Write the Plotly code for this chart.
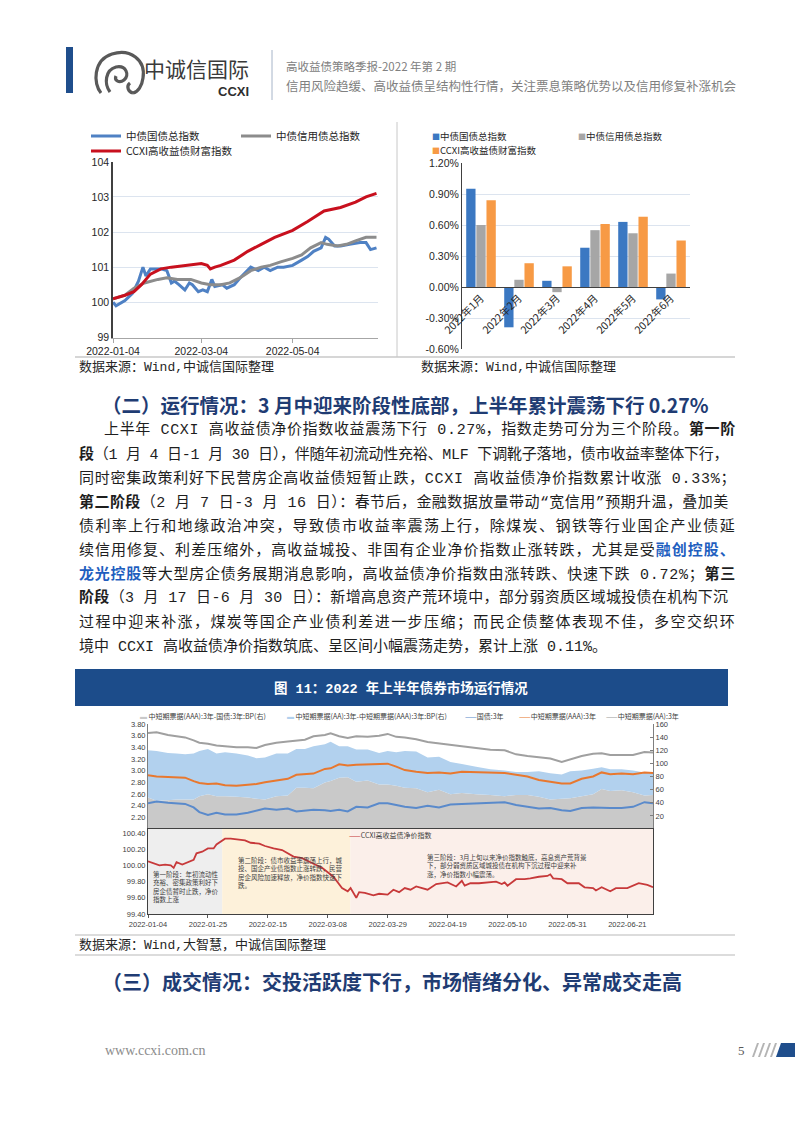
import re
import plotly.graph_objects as go

W, H = 802, 1133
CJK = "Noto Sans CJK SC, sans-serif"
BODY = "Liberation Mono, Noto Sans CJK SC, monospace"
SANS = "Liberation Sans, Arial, sans-serif"
SERIF = "Liberation Serif, serif"

# ---------------- Chart 1: index levels ----------------
gz_dates = ['2022-01-04','2022-01-06','2022-01-12','2022-01-17','2022-01-21','2022-01-24','2022-01-26','2022-01-29',
            '2022-02-05','2022-02-09','2022-02-12','2022-02-14','2022-02-17','2022-02-21','2022-02-24','2022-02-26',
            '2022-03-02','2022-03-05','2022-03-08','2022-03-11','2022-03-13','2022-03-18','2022-03-21','2022-03-26',
            '2022-03-30','2022-04-06','2022-04-11','2022-04-15','2022-04-19','2022-04-24','2022-04-28','2022-05-04',
            '2022-05-10','2022-05-14','2022-05-18','2022-05-23','2022-05-26','2022-05-28','2022-06-01','2022-06-05',
            '2022-06-11','2022-06-18','2022-06-22','2022-06-25','2022-06-29']
gz_vals = [100.0, 99.9, 100.05, 100.25, 100.6, 101.0, 100.75, 100.95,
           100.95, 100.9, 100.55, 100.6, 100.5, 100.35, 100.55, 100.5,
           100.3, 100.35, 100.3, 100.65, 100.45, 100.5, 100.4, 100.5,
           100.7, 101.0, 100.9, 101.0, 100.9, 101.0, 101.0, 101.05,
           101.2, 101.3, 101.45, 101.55, 101.85, 101.8, 101.6, 101.6,
           101.65, 101.7, 101.7, 101.5, 101.55]
xy_dates = ['2022-01-04','2022-01-12','2022-01-18','2022-01-25','2022-02-03','2022-02-09','2022-02-16','2022-02-25',
            '2022-03-04','2022-03-10','2022-03-17','2022-03-23','2022-03-30','2022-04-06','2022-04-13','2022-04-19',
            '2022-04-26','2022-05-04','2022-05-10','2022-05-16','2022-05-23','2022-05-27','2022-06-03','2022-06-09',
            '2022-06-15','2022-06-22','2022-06-29']
xy_vals = [100.1, 100.2, 100.4, 100.55, 100.65, 100.7, 100.65, 100.65,
           100.55, 100.5, 100.5, 100.55, 100.7, 100.9, 101.0, 101.05,
           101.15, 101.25, 101.35, 101.55, 101.7, 101.65, 101.6, 101.65,
           101.75, 101.85, 101.85]
hy_dates = ['2022-01-04','2022-01-12','2022-01-18','2022-01-23','2022-01-29','2022-02-05','2022-02-12','2022-02-21',
            '2022-03-04','2022-03-08','2022-03-10','2022-03-13','2022-03-17','2022-03-26','2022-04-04','2022-04-13',
            '2022-04-22','2022-05-04','2022-05-14','2022-05-25','2022-06-05','2022-06-15','2022-06-22','2022-06-29']
hy_vals = [100.1, 100.2, 100.3, 100.5, 100.8, 100.95, 101.0, 101.05,
           101.1, 101.05, 100.95, 101.0, 101.05, 101.2, 101.45, 101.65,
           101.85, 102.05, 102.3, 102.6, 102.7, 102.85, 103.0, 103.1]
c1_ticks = ['2022-01-04', '2022-03-04', '2022-05-04']
c1_yticks = [99, 100, 101, 102, 103, 104]

# ---------------- Chart 2: monthly returns (%) ----------------
months = ['2022年1月', '2022年2月', '2022年3月', '2022年4月', '2022年5月', '2022年6月']
gz_month = [0.95, -0.39, 0.06, 0.38, 0.63, -0.12]
xy_month = [0.60, 0.07, -0.05, 0.55, 0.52, 0.13]
hy_month = [0.84, 0.23, 0.20, 0.61, 0.68, 0.45]
c2_yticks = [-0.6, -0.3, 0.0, 0.3, 0.6, 0.9, 1.2]

# ---------------- Figure 11 top: yields & spreads ----------------
f11_dates = ['2022-01-04','2022-01-07','2022-01-11','2022-01-14','2022-01-17','2022-01-20','2022-01-22','2022-01-25',
             '2022-01-28','2022-01-31','2022-02-04','2022-02-08','2022-02-11','2022-02-14','2022-02-18','2022-02-22',
             '2022-02-25','2022-02-28','2022-03-03','2022-03-07','2022-03-09','2022-03-12','2022-03-15','2022-03-18',
             '2022-03-22','2022-03-26','2022-03-29','2022-04-01','2022-04-04','2022-04-08','2022-04-12','2022-04-16',
             '2022-04-20','2022-04-24','2022-04-29','2022-05-04','2022-05-09','2022-05-13','2022-05-17','2022-05-21',
             '2022-05-25','2022-05-29','2022-06-01','2022-06-05','2022-06-09','2022-06-12','2022-06-15','2022-06-19',
             '2022-06-23','2022-06-27','2022-06-30']
spread_aaa_gz = [48, 43, 44, 45, 45, 45, 50, 53, 50, 50, 49, 48, 46, 45, 50, 51, 63, 63, 62, 71,
                 73, 78, 79, 72, 74, 68, 68, 66, 63, 62, 56, 60, 53, 55, 53, 52, 50, 52, 52, 49,
                 45, 46, 47, 50, 53, 61, 58, 59, 56, 51, 52]
spread_aa_aaa = [72, 76, 72, 70, 69, 70, 69, 69, 65, 67, 66, 64, 62, 64, 65, 64, 59, 59, 64, 58,
                 60, 48, 47, 49, 47, 48, 51, 51, 56, 56, 53, 50, 49, 44, 42, 39, 39, 35, 35, 39,
                 40, 37, 41, 39, 39, 33, 33, 32, 33, 35, 35]
gz3y = [2.44, 2.47, 2.45, 2.44, 2.43, 2.37, 2.29, 2.24, 2.28, 2.25, 2.25, 2.28, 2.31, 2.35, 2.33, 2.35, 2.30,
        2.31, 2.33, 2.32, 2.31, 2.33, 2.30, 2.38, 2.37, 2.44, 2.44, 2.41, 2.38, 2.36, 2.40, 2.37, 2.42, 2.43,
        2.44, 2.45, 2.46, 2.41, 2.38, 2.35, 2.36, 2.32, 2.31, 2.36, 2.37, 2.36, 2.36, 2.36, 2.38, 2.46, 2.44]
aaa3y = [2.92, 2.90, 2.89, 2.89, 2.88, 2.82, 2.79, 2.77, 2.78, 2.75, 2.74, 2.76, 2.77, 2.80, 2.83, 2.86, 2.93,
         2.94, 2.95, 3.03, 3.04, 3.11, 3.09, 3.10, 3.11, 3.12, 3.12, 3.07, 3.01, 2.98, 2.96, 2.97, 2.95, 2.98,
         2.97, 2.97, 2.96, 2.93, 2.90, 2.84, 2.81, 2.78, 2.78, 2.86, 2.90, 2.97, 2.94, 2.95, 2.94, 2.97, 2.96]
aa3y = [3.645, 3.66, 3.61, 3.59, 3.57, 3.52, 3.48, 3.46, 3.43, 3.42, 3.40, 3.40, 3.39, 3.44, 3.48, 3.50, 3.52,
        3.53, 3.59, 3.61, 3.64, 3.59, 3.56, 3.59, 3.58, 3.60, 3.63, 3.58, 3.57, 3.54, 3.49, 3.47, 3.44, 3.42,
        3.39, 3.36, 3.35, 3.28, 3.25, 3.23, 3.21, 3.15, 3.19, 3.25, 3.29, 3.30, 3.27, 3.27, 3.27, 3.32, 3.31]

# ---------------- Figure 11 bottom: CCXI net price index ----------------
net_dates = ['2022-01-04','2022-01-06','2022-01-08','2022-01-10','2022-01-12','2022-01-13','2022-01-14','2022-01-16',
             '2022-01-18','2022-01-20','2022-01-21','2022-01-23','2022-01-25','2022-01-27','2022-01-28','2022-01-31',
             '2022-02-02','2022-02-07','2022-02-09','2022-02-12','2022-02-14','2022-02-17','2022-02-20','2022-02-22',
             '2022-02-24','2022-02-27','2022-03-01','2022-03-03','2022-03-06','2022-03-08','2022-03-10','2022-03-13',
             '2022-03-15','2022-03-16','2022-03-18','2022-03-19','2022-03-21','2022-03-24','2022-03-26','2022-03-29',
             '2022-03-31','2022-04-02','2022-04-04','2022-04-06','2022-04-08','2022-04-12','2022-04-15','2022-04-19',
             '2022-04-22','2022-04-24','2022-04-25','2022-04-27','2022-04-30','2022-05-06','2022-05-08','2022-05-09',
             '2022-05-10','2022-05-13','2022-05-16','2022-05-18','2022-05-21','2022-05-24','2022-05-25','2022-05-26',
             '2022-05-29','2022-05-31','2022-06-04','2022-06-06','2022-06-09','2022-06-10','2022-06-12','2022-06-15',
             '2022-06-17','2022-06-21','2022-06-23','2022-06-25','2022-06-28','2022-06-30']
net_vals = [100.05, 100.02, 100.00, 100.01, 100.00, 99.97, 100.04, 100.01,
            100.04, 100.07, 100.15, 100.17, 100.21, 100.21, 100.26, 100.33,
            100.33, 100.31, 100.28, 100.27, 100.24, 100.21, 100.19, 100.15,
            100.11, 100.09, 100.05, 100.02, 99.97, 99.91, 99.86, 99.72,
            99.68, 99.72, 99.60, 99.67, 99.66, 99.63, 99.65, 99.64,
            99.70, 99.67, 99.72, 99.70, 99.74, 99.70, 99.77, 99.79,
            99.74, 99.81, 99.75, 99.78, 99.78, 99.80, 99.77, 99.79,
            99.75, 99.83, 99.83, 99.84, 99.86, 99.87, 99.89, 99.84,
            99.83, 99.78, 99.78, 99.73, 99.72, 99.69, 99.73, 99.68,
            99.72, 99.72, 99.75, 99.78, 99.76, 99.73]
stage_bounds = ['2022-01-04', '2022-01-30', '2022-03-16', '2022-06-30']
stage_colors = ['#EEEEEE', '#FDF1DA', '#FBEFEA']
stage_notes = [
    "第一阶段：年初流动性<br>充裕、密集政策利好下<br>房企债暂时止跌，净价<br>指数上涨",
    "第二阶段：债市收益率震荡上行，城<br>投、国企产业债指数止涨转跌，民营<br>房企风险加速释放，净价指数快速下<br>跌。",
    "第三阶段：3月上旬以来净价指数触底，高息资产荒背景<br>下，部分弱资质区域城投债在机构下沉过程中迎来补<br>涨，净价指数小幅震荡。",
]
stage_note_pos = [('2022-01-05', 99.985), ('2022-02-04', 100.15), ('2022-04-11', 100.19)]


def px(x):
    return x / W


def py(y):
    return 1 - y / H


fig = go.Figure()

# ---------- chart 1 ----------
fig.add_trace(go.Scatter(x=gz_dates, y=gz_vals, mode='lines', name='中债国债总指数',
                         line=dict(color='#4F81C4', width=3), xaxis='x', yaxis='y', legend='legend'))
fig.add_trace(go.Scatter(x=xy_dates, y=xy_vals, mode='lines', name='中债信用债总指数',
                         line=dict(color='#8C8C8C', width=3), xaxis='x', yaxis='y', legend='legend2'))
fig.add_trace(go.Scatter(x=hy_dates, y=hy_vals, mode='lines', name='CCXI高收益债财富指数',
                         line=dict(color='#C8101E', width=3), xaxis='x', yaxis='y', legend='legend3'))

# ---------- chart 2 ----------
BAR_C = ['#3B78C2', '#A6A6A6', '#F79A45']
BAR_N = ['中债国债总指数', '中债信用债总指数', 'CCXI高收益债财富指数']
for vals, col, nm in zip([gz_month, xy_month, hy_month], BAR_C, BAR_N):
    fig.add_trace(go.Bar(x=months, y=vals, name=nm, marker=dict(color=col, line=dict(width=0)),
                         xaxis='x2', yaxis='y2', showlegend=False))

# ---------- figure 11 top ----------
fig.add_trace(go.Scatter(x=f11_dates, y=spread_aaa_gz, name='中短期票据(AAA):3年-国债:3年:BP(右)',
                         stackgroup='sp', mode='none', fillcolor='#C9C9C9', xaxis='x3', yaxis='y3',
                         showlegend=False))
fig.add_trace(go.Scatter(x=f11_dates, y=spread_aa_aaa, name='中短期票据(AA):3年-中短期票据(AAA):3年:BP(右)',
                         stackgroup='sp', mode='none', fillcolor='#B2D1EE', xaxis='x3', yaxis='y3',
                         showlegend=False))
fig.add_trace(go.Scatter(x=f11_dates, y=gz3y, name='国债:3年', mode='lines',
                         line=dict(color='#5A8ACB', width=2), xaxis='x3', yaxis='y4', showlegend=False))
fig.add_trace(go.Scatter(x=f11_dates, y=aaa3y, name='中短期票据(AAA):3年', mode='lines',
                         line=dict(color='#E8782F', width=2), xaxis='x3', yaxis='y4', showlegend=False))
fig.add_trace(go.Scatter(x=f11_dates, y=aa3y, name='中短期票据(AA):3年', mode='lines',
                         line=dict(color='#A0A0A0', width=2), xaxis='x3', yaxis='y4', showlegend=False))

# ---------- figure 11 bottom ----------
fig.add_trace(go.Scatter(x=net_dates, y=net_vals, name='CCXI高收益债净价指数', mode='lines',
                         line=dict(color='#C7393A', width=1.8), xaxis='x4', yaxis='y5', showlegend=False))

shapes = []
annotations = []

for i in range(3):
    shapes.append(dict(type='rect', xref='x4', yref='y5 domain', x0=stage_bounds[i], x1=stage_bounds[i + 1],
                       y0=0, y1=1, fillcolor=stage_colors[i], line=dict(width=0), layer='below'))
for note, (nx, ny) in zip(stage_notes, stage_note_pos):
    annotations.append(dict(xref='x4', yref='y5', x=nx, y=ny, text=note, showarrow=False, xanchor='left',
                            yanchor='top', align='left', font=dict(family=CJK, size=6.5, color='#404040')))

# ---------- axes ----------
grid_c = '#DCE4EF'
TF = dict(family=SANS, size=10.5, color='#262626')
lay = dict(
    xaxis=dict(domain=[px(113), px(378)], anchor='y', type='date', range=['2022-01-04', '2022-06-30'],
               tickvals=c1_ticks, ticktext=c1_ticks, showline=True, linecolor='#A6A6A6', ticks='outside',
               ticklen=4, tickcolor='#A6A6A6', showgrid=False, tickfont=TF),
    yaxis=dict(domain=[py(337.5), py(161.5)], anchor='x', range=[98.995, 104.01], tickvals=c1_yticks,
               ticktext=[str(v) for v in c1_yticks], showline=True,
               linecolor='#404040', linewidth=1.5, gridcolor=grid_c, zeroline=False, tickfont=TF),
    xaxis2=dict(domain=[px(462), px(690)], anchor='free', position=py(349) + (py(163) - py(349)) * 0.6 / 1.8,
                type='category', showline=True, linecolor='#404040', linewidth=1, tickangle=-45, ticks='',
                showgrid=False, tickfont=dict(family=CJK, size=10.5, color='#262626')),
    yaxis2=dict(domain=[py(349), py(163)], anchor='x2', range=[-0.6, 1.2], tickvals=c2_yticks,
                ticktext=[f"{v:.2f}%" for v in c2_yticks], showline=True, linecolor='#404040',
                gridcolor=grid_c, zeroline=False, tickfont=TF),
    xaxis3=dict(domain=[px(148), px(653)], anchor='y3', type='date', range=['2022-01-04', '2022-06-30'],
                showticklabels=False, showgrid=False, showline=False, ticks=''),
    yaxis3=dict(domain=[py(829), py(724)], anchor='x3', side='right', range=[0, 160],
                tickvals=[20, 40, 60, 80, 100, 120, 140, 160], showgrid=False, zeroline=False, showline=True,
                linecolor='#7F7F7F', ticks='inside', ticklen=3, tickcolor='#7F7F7F',
                tickfont=dict(family=SANS, size=7.5, color='#404040')),
    yaxis4=dict(overlaying='y3', anchor='x3', side='left', range=[2.0, 3.8],
                tickvals=[2.2, 2.4, 2.6, 2.8, 3.0, 3.2, 3.4, 3.6, 3.8], tickformat='.2f',
                showgrid=False, zeroline=False, showline=True, linecolor='#7F7F7F', ticks='',
                tickfont=dict(family=SANS, size=7.5, color='#404040')),
    xaxis4=dict(domain=[px(148), px(653)], anchor='y5', type='date', range=['2022-01-04', '2022-06-30'],
                tick0='2022-01-04', dtick=21 * 86400000, tickformat='%Y-%m-%d', ticks='outside', ticklen=3,
                tickcolor='#595959', showgrid=False, showline=True, linecolor='#404040', mirror=True,
                tickfont=dict(family=SANS, size=7.5, color='#404040')),
    yaxis5=dict(domain=[py(914), py(829)], anchor='x4', range=[99.4, 100.45],
                tickvals=[99.4, 99.6, 99.8, 100.0, 100.2, 100.4], tickformat='.2f', showgrid=False,
                zeroline=False, showline=True, linecolor='#404040', mirror=True, ticks='',
                tickfont=dict(family=SANS, size=7.5, color='#404040')),
)


def legend_at(x, y, size=10.5):
    return dict(x=px(x), y=py(y), xanchor='left', yanchor='middle', orientation='h',
                bgcolor='rgba(0,0,0,0)', borderwidth=0, itemwidth=30,
                font=dict(family=CJK, size=size, color='#262626'))


lay['legend'] = legend_at(86, 136)
lay['legend2'] = legend_at(236, 136)
lay['legend3'] = legend_at(86, 151)

# ---------- chart 2 legend (small squares, as in the reference) ----------
for (lx, ly), col, nm in zip([(431, 136), (577, 136), (431, 150)], BAR_C, BAR_N):
    annotations.append(dict(xref='paper', yref='paper', x=px(lx), y=py(ly),
                            text=f"<span style='color:{col};font-size:8px'>■</span>{nm}", showarrow=False,
                            xanchor='left', yanchor='middle', borderpad=0,
                            font=dict(family=CJK, size=9.5, color='#262626')))

# ---------- figure 11 manual legend text ----------
f11_leg = [
    (138, "<span style='color:#C9C9C9'>▬</span> 中短期票据(AAA):3年-国债:3年:BP(右)"),
    (285, "<span style='color:#B2D1EE'>▬</span> 中短期票据(AA):3年-中短期票据(AAA):3年:BP(右)"),
    (463, "<span style='color:#5A8ACB'>——</span>国债:3年"),
    (517, "<span style='color:#E8782F'>——</span>中短期票据(AAA):3年"),
    (604, "<span style='color:#A0A0A0'>——</span>中短期票据(AA):3年"),
]
for lx, lt in f11_leg:
    annotations.append(dict(xref='paper', yref='paper', x=px(lx), y=py(716), text=lt, showarrow=False,
                            xanchor='left', yanchor='middle', font=dict(family=CJK, size=7, color='#404040')))
annotations.append(dict(xref='paper', yref='paper', x=px(347), y=py(835),
                        text="<span style='color:#C7393A'>——</span>CCXI高收益债净价指数", showarrow=False,
                        xanchor='left', yanchor='middle', font=dict(family=CJK, size=7, color='#404040')))

# ---------- page decoration: header ----------
shapes.append(dict(type='rect', xref='paper', yref='paper', x0=px(66), x1=px(73), y0=py(93), y1=py(47),
                   fillcolor='#1F4E8C', line=dict(width=0)))
shapes.append(dict(type='line', xref='paper', yref='paper', x0=px(272), x1=px(272), y0=py(100), y1=py(50),
                   line=dict(color='#A6B4C8', width=1)))


def path_px(cmds):
    out = []
    for c in cmds:
        if isinstance(c, str):
            out.append(c)
        else:
            out.append(f"{px(c[0]):.5f},{py(c[1]):.5f}")
    return ' '.join(out)


logo_paths = [
    ['M', (101, 93), 'C', (93, 84), (93, 60), (112, 54), 'C', (130, 48), (146, 60), (143, 78),
     'C', (142, 86), (138, 92), (133, 93)],
    ['M', (110, 92), 'C', (104, 84), (105, 70), (116, 67), 'C', (126, 65), (130, 75), (124, 80),
     'C', (119, 84), (114, 80), (116, 76)],
    ['M', (133, 93), 'C', (128, 92), (126, 86), (130, 83)],
]
for pth in logo_paths:
    shapes.append(dict(type='path', xref='paper', yref='paper', path=path_px(pth),
                       line=dict(color='#595959', width=3.2)))

annotations += [
    dict(xref='paper', yref='paper', x=px(142), y=py(68), text='中诚信国际', showarrow=False, xanchor='left',
         yanchor='middle', font=dict(family=CJK, size=21, color='#3A3A3A')),
    dict(xref='paper', yref='paper', x=px(251), y=py(91), text='<b>CCXI</b>', showarrow=False, xanchor='right',
         yanchor='middle', font=dict(family=SANS, size=13, color='#2E2E2E')),
    dict(xref='paper', yref='paper', x=px(284), y=py(66), text='高收益债策略季报-2022 年第 2 期', showarrow=False,
         xanchor='left', yanchor='middle', font=dict(family=CJK, size=11.5, color='#808080')),
    dict(xref='paper', yref='paper', x=px(284), y=py(85),
         text='信用风险趋缓、高收益债呈结构性行情，关注票息策略优势以及信用修复补涨机会', showarrow=False,
         xanchor='left', yanchor='middle', font=dict(family=CJK, size=12.5, color='#808080')),
]

# ---------- table lines around top charts ----------
shapes.append(dict(type='line', xref='paper', yref='paper', x0=px(397), x1=px(397), y0=py(357), y1=py(122),
                   line=dict(color='#C8C8C8', width=1)))
shapes.append(dict(type='line', xref='paper', yref='paper', x0=px(75), x1=px(735), y0=py(357), y1=py(357),
                   line=dict(color='#C8C8C8', width=1.5)))
annotations += [
    dict(xref='paper', yref='paper', x=px(77), y=py(367), text='数据来源：Wind,中诚信国际整理', showarrow=False,
         xanchor='left', yanchor='middle', font=dict(family=BODY, size=13, color='#262626')),
    dict(xref='paper', yref='paper', x=px(419), y=py(367), text='数据来源：Wind,中诚信国际整理', showarrow=False,
         xanchor='left', yanchor='middle', font=dict(family=BODY, size=13, color='#262626')),
]

# ---------- section 2 title and body ----------
annotations.append(dict(xref='paper', yref='paper', x=px(100), y=py(405),
                        text='<b>（二）运行情况：3 月中迎来阶段性底部，上半年累计震荡下行 0.27%</b>',
                        showarrow=False, xanchor='left', yanchor='middle',
                        font=dict(family=CJK, size=19.5, color='#1F3C73')))

BLUE_T = '#1F5FBF'
body_lines = [
    "上半年 CCXI 高收益债净价指数收益震荡下行 0.27%，指数走势可分为三个阶段。<b>第一阶</b>",
    "<b>段</b>（1 月 4 日-1 月 30 日），伴随年初流动性充裕、MLF 下调靴子落地，债市收益率整体下行，",
    "同时密集政策利好下民营房企高收益债短暂止跌，CCXI 高收益债净价指数累计收涨 0.33%；",
    "<b>第二阶段</b>（2 月 7 日-3 月 16 日）：春节后，金融数据放量带动“宽信用”预期升温，叠加美",
    "债利率上行和地缘政治冲突，导致债市收益率震荡上行，除煤炭、钢铁等行业国企产业债延",
    f"续信用修复、利差压缩外，高收益城投、非国有企业净价指数止涨转跌，尤其是受<span style='color:{BLUE_T}'><b>融创控股、</b></span>",
    f"<span style='color:{BLUE_T}'><b>龙光控股</b></span>等大型房企债务展期消息影响，高收益债净价指数由涨转跌、快速下跌 0.72%；<b>第三</b>",
    "<b>阶段</b>（3 月 17 日-6 月 30 日）：新增高息资产荒环境中，部分弱资质区域城投债在机构下沉",
    "过程中迎来补涨，煤炭等国企产业债利差进一步压缩；而民企债整体表现不佳，多空交织环",
    "境中 CCXI 高收益债净价指数筑底、呈区间小幅震荡走势，累计上涨 0.11%。",
]
BODY_SIZE = 15


def em_width(s):
    plain = re.sub(r'<[^>]+>', '', s)
    w = 0.0
    for ch in plain:
        w += 0.6 if (ord(ch) < 0x2E80 and ch not in '（）') else 1.0
    return w, len(plain)


for i, line in enumerate(body_lines):
    x0 = 103 if i == 0 else 78
    justify = i < len(body_lines) - 1
    text = line
    if justify:
        ems, n = em_width(line)
        ls = (735 - x0 - ems * BODY_SIZE) / n
        text = f"<span style='letter-spacing:{ls:.2f}px'>{line}</span>"
    annotations.append(dict(xref='paper', yref='paper', x=px(x0 - 1), y=py(430 + 24 * i),
                            text=text, showarrow=False, xanchor='left', yanchor='middle',
                            font=dict(family=BODY, size=BODY_SIZE, color='#1E1E1E')))

# ---------- figure 11 banner ----------
shapes.append(dict(type='rect', xref='paper', yref='paper', x0=px(75), x1=px(728), y0=py(706), y1=py(669),
                   fillcolor='#1C4C8A', line=dict(width=0)))
annotations.append(dict(xref='paper', yref='paper', x=px(401), y=py(688),
                        text='<b>图 11：2022 年上半年债券市场运行情况</b>', showarrow=False,
                        xanchor='center', yanchor='middle', font=dict(family=BODY, size=13.5, color='white')))
shapes.append(dict(type='line', xref='paper', yref='paper', x0=px(75), x1=px(735), y0=py(935), y1=py(935),
                   line=dict(color='#D0D0D0', width=1.5)))
shapes.append(dict(type='line', xref='paper', yref='paper', x0=px(75), x1=px(735), y0=py(955), y1=py(955),
                   line=dict(color='#D0D0D0', width=1.5)))
annotations.append(dict(xref='paper', yref='paper', x=px(77), y=py(945), text='数据来源：Wind,大智慧，中诚信国际整理',
                        showarrow=False, xanchor='left', yanchor='middle',
                        font=dict(family=BODY, size=13, color='#262626')))

# ---------- section 3 title ----------
annotations.append(dict(xref='paper', yref='paper', x=px(100), y=py(981),
                        text='<b>（三）成交情况：交投活跃度下行，市场情绪分化、异常成交走高</b>',
                        showarrow=False, xanchor='left', yanchor='middle',
                        font=dict(family=CJK, size=20, color='#1F3C73')))

# ---------- footer ----------
annotations.append(dict(xref='paper', yref='paper', x=px(103), y=py(1050), text='www.ccxi.com.cn', showarrow=False,
                        xanchor='left', yanchor='middle', font=dict(family=SERIF, size=14, color='#8C8C8C')))
annotations.append(dict(xref='paper', yref='paper', x=px(741), y=py(1050), text='5', showarrow=False,
                        xanchor='center', yanchor='middle', font=dict(family=SERIF, size=13, color='#595959')))
for k in range(4):
    x0 = 752 + k * 6
    shapes.append(dict(type='path', xref='paper', yref='paper',
                       path=path_px(['M', (x0, 1057), 'L', (x0 + 5, 1043), 'L', (x0 + 7, 1043), 'L', (x0 + 2, 1057), 'Z']),
                       fillcolor='#B4B4B4', line=dict(width=0)))
shapes.append(dict(type='path', xref='paper', yref='paper',
                   path=path_px(['M', (776, 1057), 'L', (781, 1043), 'L', (795, 1043), 'L', (795, 1057), 'Z']),
                   fillcolor='#1F4E8C', line=dict(width=0)))

fig.update_layout(
    width=W, height=H, autosize=False, margin=dict(l=0, r=0, t=0, b=0),
    paper_bgcolor='white', plot_bgcolor='rgba(0,0,0,0)', template='none',
    barmode='group', bargap=0.2, bargroupgap=0.08,
    shapes=shapes, annotations=annotations, showlegend=True,
    font=dict(family=CJK), **lay,
)

fig.write_html('out.html', config={'displayModeBar': False},
               post_script="document.body.style.margin='0px';document.body.style.padding='0px';")
